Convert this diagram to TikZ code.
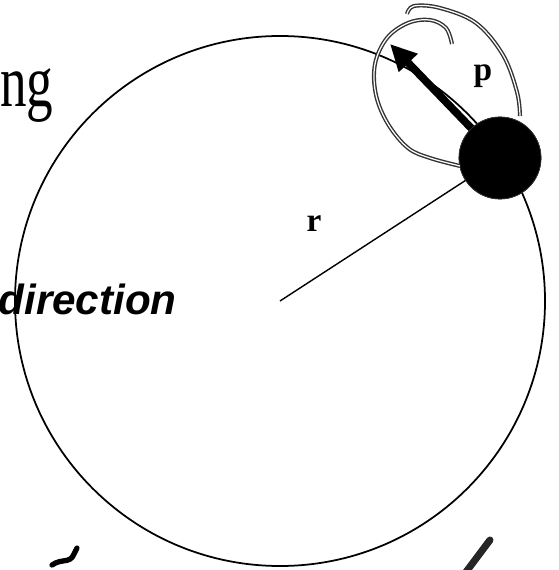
\documentclass[tikz,border=0pt]{standalone}
\usepackage{fontspec}
\setmainfont{Liberation Serif}
\newfontfamily\handfont{Liberation Sans}
\usetikzlibrary{arrows.meta}

\begin{document}
\begin{tikzpicture}[x=0.02cm,y=-0.02cm,
  orbit/.style={line width=1pt},
  penmark/.style={draw=black!80,double=white,line width=0.8pt,double distance=0.7pt},
  scrawl/.style={line width=3pt,line cap=round,line join=round}]
  \tikzset{ball/.style={circle,fill=black,draw=black!80,minimum size=1.64cm,inner sep=0pt},
    lbl/.style={font=\fontsize{19}{19}\selectfont\bfseries,inner sep=0pt}}
  \useasboundingbox (0,0) rectangle (558,570);
  \clip (0,0) rectangle (558,570);
  % orbit and radius
  \coordinate (o) at (280,301);
  \draw[orbit] (o) circle (265);
  \node[ball] (b) at (500,158) {};
  \draw[line width=0.8pt] (o) -- (b.center);
  \node[ball] at (b) {};
  % momentum
  \coordinate (tip) at (390,44);
  \draw[line width=4.4pt,-{Triangle[length=15pt,width=14pt]}] (b) -- (tip);
  \node[lbl] (p) at (483,76) {p};
  \node[lbl] (r) at (314,224) {r};
  % pen marks
  \draw[penmark] plot[smooth,tension=0.6] coordinates {(460,166) (430,158) (408,148) (388,124)
    (376,95) (375,64) (387,38) (408,23) (430,20) (446,28) (452,44)};
  \draw[penmark] plot[smooth,tension=0.6] coordinates {(407,14) (414,6) (440,8) (476,23)
    (503,55) (517,92) (520,116)};
  \draw[scrawl] (52,565) .. controls (62,558) and (70,564) .. (74,554) -- (77,548);
  \draw[scrawl,line width=4pt,draw=black!85] (466,572) -- (490,540);
  % texts
  \node[anchor=base west,inner sep=0pt,font=\fontsize{42}{42}\selectfont] (ng) at (0,107)
    {\scalebox{0.72}[1]{ng}};
  \node[anchor=base east,inner sep=0pt,font=\handfont\fontsize{24}{24}\selectfont\bfseries\itshape]
    (dir) at (177,315) {direction};
\end{tikzpicture}
\end{document}
